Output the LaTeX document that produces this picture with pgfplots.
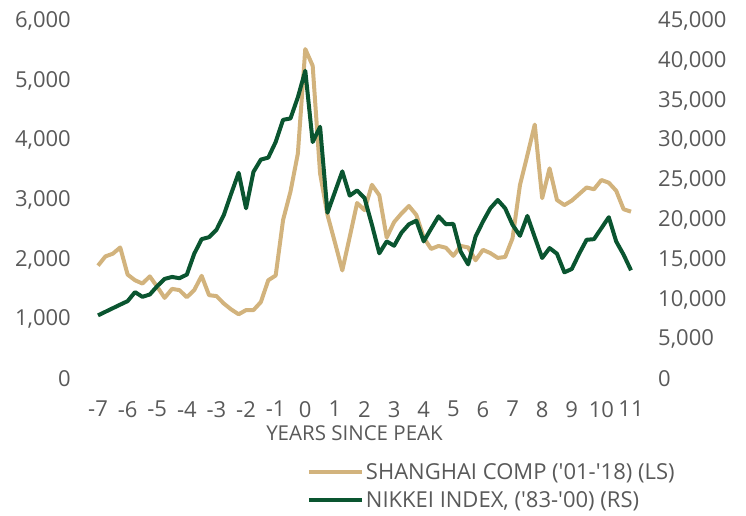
\documentclass[border=0pt]{standalone}
\usepackage{pgfplots}
\usepackage{pgfplotstable}
\pgfplotsset{compat=1.18}
\usepackage{fontspec}
\setmainfont{Open Sans}
\definecolor{tanc}{HTML}{D2B37D}
\definecolor{dkgreen}{HTML}{0A5530}
\definecolor{txt}{HTML}{595959}
\pgfplotstableread{
x sh nk
-7.00 1900 8000
-6.75 2055 8450
-6.50 2100 8900
-6.25 2205 9350
-6.00 1750 9790
-5.75 1655 10920
-5.50 1600 10330
-5.25 1720 10625
-5.00 1545 11670
-4.75 1360 12580
-4.50 1510 12830
-4.25 1490 12670
-4.00 1370 13125
-3.75 1490 15750
-3.50 1730 17580
-3.25 1405 17830
-3.00 1390 18750
-2.75 1265 20625
-2.50 1165 23330
-2.25 1085 25920
-2.00 1155 21460
-1.75 1155 26040
-1.50 1290 27580
-1.25 1655 27830
-1.00 1735 29790
-0.75 2665 32580
-0.50 3140 32750
-0.25 3780 35420
0.00 5530 38750
0.25 5250 29790
0.50 3445 31700
0.75 2750 20900
1.00 2290 23500
1.25 1820 26100
1.50 2380 23050
1.75 2950 23700
2.00 2830 22750
2.25 3255 19400
2.50 3080 15800
2.75 2370 17300
3.00 2630 16750
3.25 2775 18400
3.50 2900 19450
3.75 2750 19900
4.00 2370 17300
4.25 2180 18900
4.50 2230 20450
4.75 2200 19450
5.00 2065 19500
5.25 2230 16000
5.50 2205 14400
5.75 1990 17900
6.00 2165 19790
6.25 2110 21460
6.50 2030 22500
6.75 2045 21460
7.00 2360 19375
7.25 3250 18000
7.50 3750 20500
7.75 4265 17830
8.00 3030 15210
8.25 3530 16460
8.50 3000 15750
8.75 2915 13410
9.00 2990 13830
9.25 3100 15750
9.50 3210 17500
9.75 3180 17580
10.00 3335 18960
10.25 3290 20340
10.50 3155 17290
10.75 2845 15625
11.00 2805 13660
}\datatable
\newcommand{\lbl}{\fontsize{22}{26}\selectfont}
\newcommand{\q}{\textquotesingle}
\begin{document}
\begin{tikzpicture}
\path[use as bounding box] (0pt,0pt) rectangle (746pt,-515pt);
\begin{axis}[
  at={(98pt,-379pt)}, anchor=south west,
  scale only axis, width=533pt, height=358pt,
  xmin=-7, xmax=11, ymin=0, ymax=6000,
  clip=false,
  axis x line*=bottom, axis y line*=left,
  axis line style={draw=none},
  major tick length=0pt, tick style={draw=none},
  xtick={-7,-6,...,11},
  xticklabels={-7,-6,-5,-4,-3,-2,-1,0,1,2,3,4,5,6,7,8,9,10,11},
  ytick={0,1000,...,6000},
  scaled y ticks=false,
  /pgf/number format/assume math mode=true,
  /pgf/number format/1000 sep={,},
  ticklabel style={font=\lbl, text=txt},
  yticklabel style={anchor=east, inner sep=0pt, xshift=-27pt},
  xticklabel style={anchor=north, inner sep=0pt, yshift=-22pt},
  xlabel={YEARS SINCE PEAK},
  xlabel style={font=\fontsize{20.5}{24}\selectfont, text=txt, at={(rel axis cs:0.5,0)}, anchor=north, inner sep=0pt, yshift=-46pt, xshift=-10pt},
  legend style={at={(rel axis cs:0.386,-0.225)}, anchor=north west, draw=none, fill=none,
    font=\lbl, text=txt, nodes={inner sep=2pt}, row sep=6pt, cells={anchor=west}},
  legend image code/.code={\draw[#1] (0pt,0pt) -- (53pt,0pt);},
]
\addplot[tanc, line width=4pt, line join=round] table[x=x, y=sh] {\datatable};
\addlegendentry{SHANGHAI COMP (\q01-\q18) (LS)}
\addlegendimage{dkgreen, line width=4pt}
\addlegendentry{NIKKEI INDEX, (\q83-\q00) (RS)}
\end{axis}
\begin{axis}[
  at={(98pt,-379pt)}, anchor=south west,
  scale only axis, width=533pt, height=358pt,
  xmin=-7, xmax=11, ymin=0, ymax=45000,
  clip=false,
  hide x axis,
  axis y line*=right,
  axis line style={draw=none},
  major tick length=0pt, tick style={draw=none},
  ytick={0,5000,...,45000},
  scaled y ticks=false,
  /pgf/number format/assume math mode=true,
  /pgf/number format/1000 sep={,},
  ticklabel style={font=\lbl, text=txt},
  yticklabel style={anchor=west, inner sep=0pt, xshift=27pt},
]
\addplot[dkgreen, line width=4pt, line join=round] table[x=x, y=nk] {\datatable};
\end{axis}
\end{tikzpicture}
\end{document}
